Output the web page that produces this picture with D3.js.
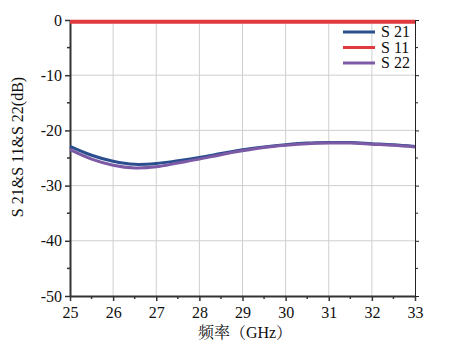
<!DOCTYPE html>
<html>
<head>
<meta charset="utf-8">
<script src="https://cdn.jsdelivr.net/npm/d3@7"></script>
<style>
  body { margin: 0; background: #fff; }
</style>
</head>
<body>
<div id="chart"></div>
<script>
// data
const freq = [25, 25.5, 26, 26.5, 27, 27.5, 28, 28.5, 29, 29.5, 30, 30.5, 31, 31.5, 32, 32.5, 33];
const s21 = [-22.9, -24.5, -25.6, -26.15, -26.0, -25.5, -24.9, -24.2, -23.5, -23.0, -22.6, -22.3, -22.2, -22.2, -22.4, -22.6, -22.9];
const s11 = [-0.3, -0.3, -0.3, -0.3, -0.3, -0.3, -0.3, -0.3, -0.3, -0.3, -0.3, -0.3, -0.3, -0.3, -0.3, -0.3, -0.3];
const s22 = [-23.5, -25.2, -26.3, -26.8, -26.6, -25.9, -25.2, -24.4, -23.7, -23.1, -22.7, -22.4, -22.3, -22.3, -22.5, -22.7, -23.0];
const xTicks = [25, 26, 27, 28, 29, 30, 31, 32, 33];
const yTicks = [0, -10, -20, -30, -40, -50];
const seriesNames = ["S 21", "S 11", "S 22"];
const seriesColors = ["#2b4f8e", "#e0393e", "#7c5aa6"];

const serif = "'Liberation Serif', 'Times New Roman', serif";
const width = 450, height = 353;
const margin = {top: 20, right: 35, bottom: 57, left: 70};

const svg = d3.select("#chart").append("svg")
    .attr("width", width)
    .attr("height", height);

const x = d3.scaleLinear().domain([25, 33]).range([margin.left, width - margin.right]);
const y = d3.scaleLinear().domain([-50, 0]).range([height - margin.bottom, margin.top]);

// grid
svg.append("g").selectAll("line")
    .data(xTicks.slice(1, -1))
    .enter().append("line")
    .attr("x1", d => x(d)).attr("x2", d => x(d))
    .attr("y1", y(0)).attr("y2", y(-50))
    .attr("stroke", "#cfcfcf").attr("stroke-width", 1);

svg.append("g").selectAll("line")
    .data(yTicks.slice(1, -1))
    .enter().append("line")
    .attr("x1", x(25)).attr("x2", x(33))
    .attr("y1", d => y(d)).attr("y2", d => y(d))
    .attr("stroke", "#cfcfcf").attr("stroke-width", 1);

// minor ticks
const xMinor = d3.range(25.5, 33, 1);
const yMinor = d3.range(-45, 0, 10);

// bottom axis
const xAxis = svg.append("g")
    .attr("transform", "translate(0," + y(-50) + ")")
    .call(d3.axisBottom(x).tickValues(xTicks).tickFormat(d => String(d)).tickSize(5).tickSizeOuter(0));
xAxis.select(".domain").attr("stroke", "#333").attr("stroke-width", 2);
xAxis.selectAll(".tick line").attr("stroke", "#333").attr("stroke-width", 1.5);
xAxis.selectAll("text").style("font-size", "16px").attr("fill", "#111")
    .style("font-family", serif).attr("y", 10).attr("dy", "0.75em");
xAxis.selectAll(".minor").data(xMinor).enter().append("line")
    .attr("x1", d => x(d)).attr("x2", d => x(d))
    .attr("y1", 0).attr("y2", 3)
    .attr("stroke", "#333").attr("stroke-width", 1.5);

// left axis
const yAxis = svg.append("g")
    .attr("transform", "translate(" + x(25) + ",0)")
    .call(d3.axisLeft(y).tickValues(yTicks).tickFormat(d => String(d)).tickSize(5).tickSizeOuter(0));
yAxis.select(".domain").attr("stroke", "#333").attr("stroke-width", 2);
yAxis.selectAll(".tick line").attr("stroke", "#333").attr("stroke-width", 1.5);
yAxis.selectAll("text").style("font-size", "16px").attr("fill", "#111")
    .style("font-family", serif).attr("x", -8);
yAxis.selectAll(".minor").data(yMinor).enter().append("line")
    .attr("x1", 0).attr("x2", -3)
    .attr("y1", d => y(d)).attr("y2", d => y(d))
    .attr("stroke", "#333").attr("stroke-width", 1.5);

// right axis
const rAxis = svg.append("g")
    .attr("transform", "translate(" + x(33) + ",0)")
    .call(d3.axisRight(y).tickValues(yTicks).tickFormat("").tickSize(4).tickSizeOuter(0));
rAxis.select(".domain").attr("stroke", "#222").attr("stroke-width", 1);
rAxis.selectAll(".tick line").attr("stroke", "#222");
rAxis.selectAll(".minor").data(yMinor).enter().append("line")
    .attr("x1", 0).attr("x2", 3)
    .attr("y1", d => y(d)).attr("y2", d => y(d))
    .attr("stroke", "#222");

// curves
const line = d3.line()
    .x((d, i) => x(freq[i]))
    .y(d => y(d))
    .curve(d3.curveCatmullRom);

[s21, s11, s22].forEach((s, i) => {
    svg.append("path")
        .datum(s)
        .attr("fill", "none")
        .attr("stroke", seriesColors[i])
        .attr("stroke-width", i === 1 ? 4 : 3)
        .attr("d", line);
});

// legend
const legend = svg.append("g");
seriesNames.forEach((name, i) => {
    const ly = 32 + i * 15.5;
    legend.append("line")
        .attr("x1", 343).attr("x2", 375)
        .attr("y1", ly).attr("y2", ly)
        .attr("stroke", seriesColors[i]).attr("stroke-width", 3);
    legend.append("text")
        .attr("x", 381).attr("y", ly + 5)
        .style("font-size", "16px").style("font-family", serif).attr("fill", "#111")
        .text(name);
});

// axis titles
svg.append("text")
    .attr("transform", "translate(23,147) rotate(-90)")
    .attr("text-anchor", "middle")
    .style("font-size", "16px").style("font-family", serif).attr("fill", "#111")
    .text("S 21&S 11&S 22(dB)");

svg.append("text")
    .attr("x", 245).attr("y", 338)
    .attr("text-anchor", "middle")
    .style("font-size", "16px")
    .style("font-family", "'Liberation Serif', 'Noto Serif CJK SC', serif")
    .attr("fill", "#111")
    .text("频率（GHz）");
</script>
</body>
</html>
